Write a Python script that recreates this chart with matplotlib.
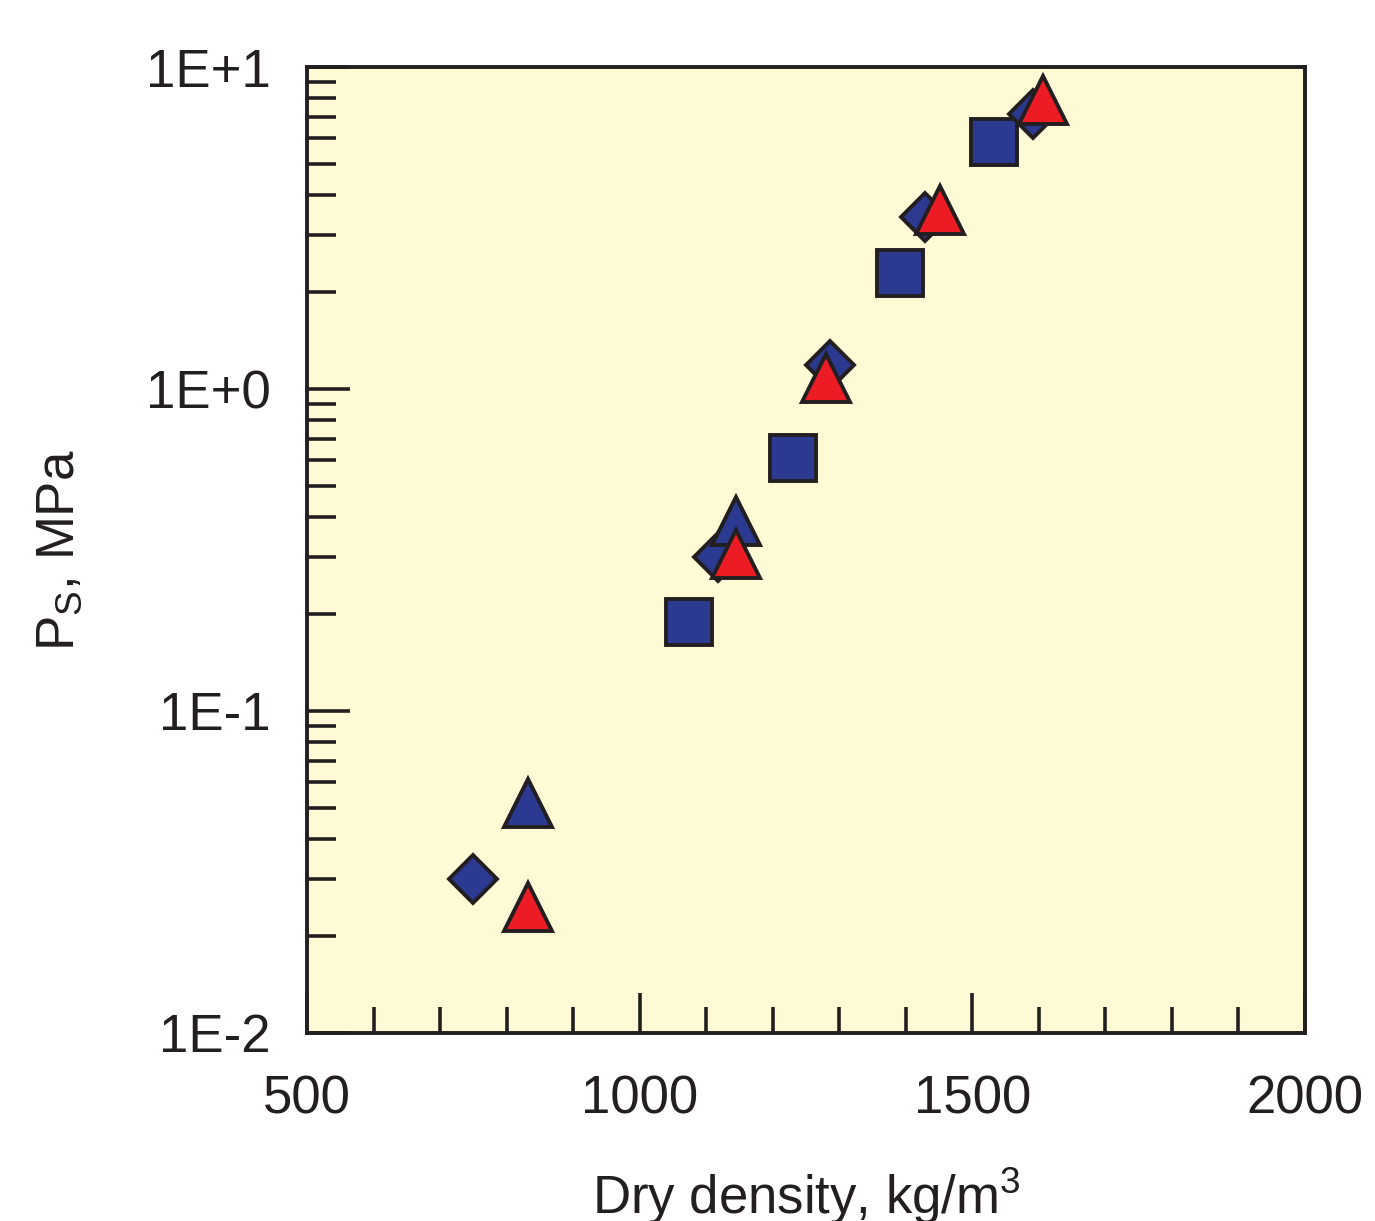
import matplotlib.pyplot as plt
from matplotlib.ticker import FixedLocator, LogLocator, NullFormatter

plt.rcParams['font.family'] = ['Liberation Sans', 'DejaVu Sans']
plt.rcParams['mathtext.default'] = 'regular'

# blue squares
sq_x = [1074, 1230, 1391, 1533]
sq_y = [0.189, 0.61, 2.29, 5.85]

# blue diamonds
dm_x = [750, 1118, 1286, 1429, 1591]
dm_y = [0.030, 0.30, 1.19, 3.42, 7.14]

# blue triangles
bt_x = [832, 1145]
bt_y = [0.0518, 0.389]

# red triangles
rt_x = [832, 1145, 1280, 1451, 1606]
rt_y = [0.0246, 0.308, 1.08, 3.6, 7.9]

y_labels = {0.01: '1E-2', 0.1: '1E-1', 1: '1E+0', 10: '1E+1'}

blue = '#2B3990'
red = '#ED1C24'
dark = '#231F20'
bg = '#FEFAD6'

fig = plt.figure(figsize=(13.75, 12.21), dpi=100)
ax = fig.add_axes([0.2233, 0.154, 0.7257, 0.7911])
ax.set_facecolor(bg)

mk = dict(linestyle='none', markeredgecolor=dark, markeredgewidth=2.8, clip_on=False)
ax.plot(sq_x, sq_y, marker='s', markersize=33, markerfacecolor=blue, **mk)
ax.plot(dm_x, dm_y, marker='D', markersize=24, markerfacecolor=blue, **mk)
ax.plot(bt_x, bt_y, marker='^', markersize=34, markerfacecolor=blue, **mk)
ax.plot(rt_x, rt_y, marker='^', markersize=34, markerfacecolor=red, **mk)

ax.set_xlim(500, 2000)
ax.set_yscale('log')
ax.set_ylim(0.01, 10)

ax.xaxis.set_major_locator(FixedLocator([500, 1000, 1500, 2000]))
ax.xaxis.set_minor_locator(FixedLocator(range(500, 2001, 100)))
ax.yaxis.set_major_locator(FixedLocator(list(y_labels.keys())))
ax.set_yticklabels(list(y_labels.values()))
ax.yaxis.set_minor_locator(LogLocator(base=10, subs=range(2, 10)))
ax.yaxis.set_minor_formatter(NullFormatter())

for s in ax.spines.values():
    s.set_linewidth(2.8)
    s.set_color(dark)

ax.tick_params(which='both', direction='in', color=dark, width=2.6,
               top=False, right=False, labelcolor=dark, labelsize=38)
ax.tick_params(axis='x', which='major', length=29, pad=30)
ax.tick_params(axis='x', which='minor', length=19)
ax.tick_params(axis='y', which='major', length=31, pad=26)
ax.tick_params(axis='y', which='minor', length=21)

ax.set_xlabel('Dry density, kg/m$^3$', fontsize=38, color=dark, labelpad=30)
ax.set_ylabel('P$_S$, MPa', fontsize=38, color=dark, labelpad=44)

fig.savefig('out.png', dpi=100)
